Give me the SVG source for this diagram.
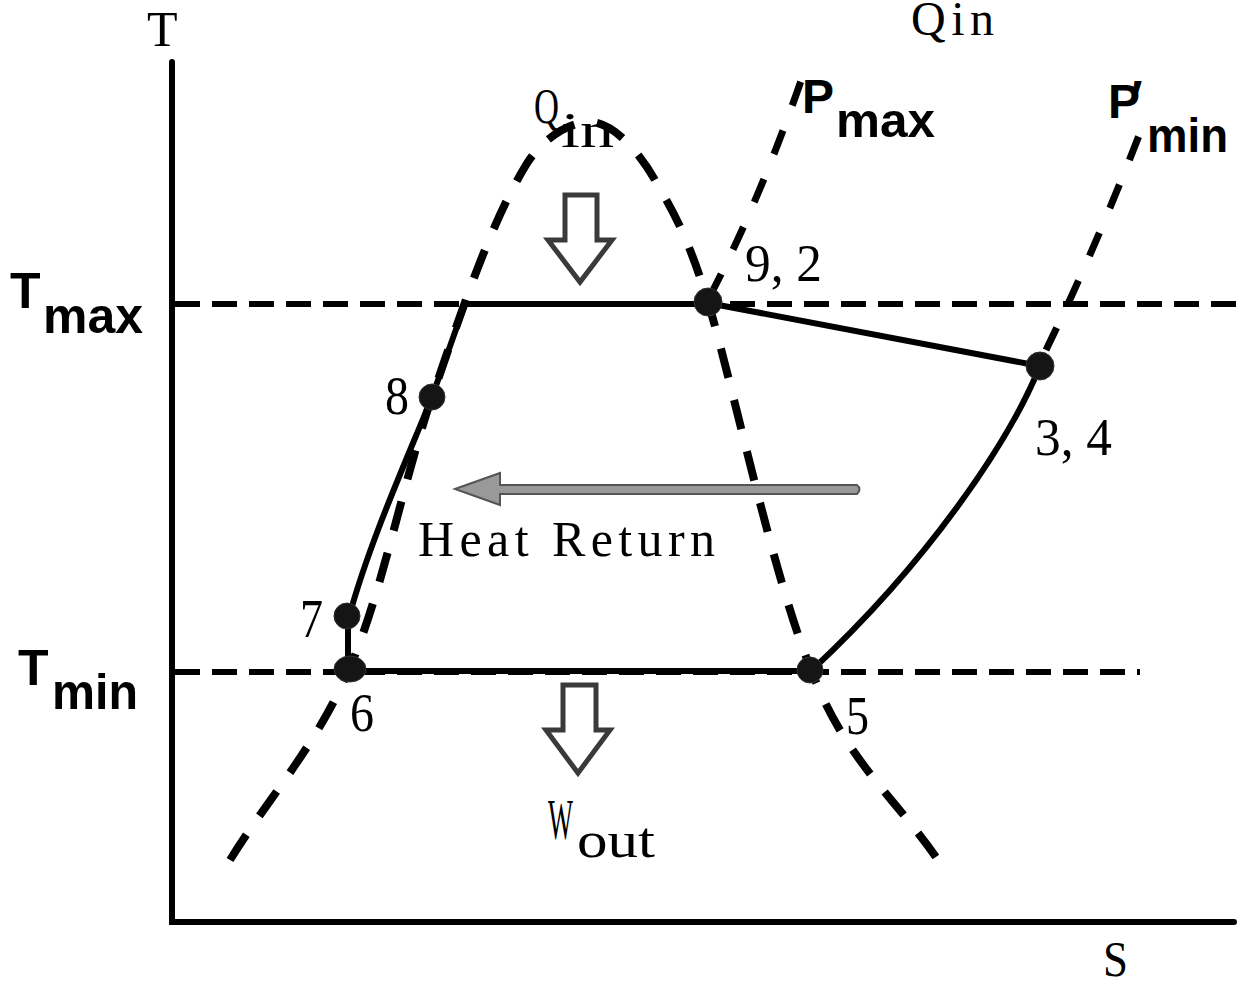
<svg xmlns="http://www.w3.org/2000/svg" width="1245" height="986" viewBox="0 0 1245 986">
<style>
.axis{stroke:#000;stroke-width:6;fill:none;stroke-linecap:round}
.iso{stroke:#000;stroke-width:6;fill:none;stroke-dasharray:25 12}
.dome{stroke:#000;stroke-width:8;fill:none;stroke-dasharray:30 23}
.bar{stroke:#000;stroke-width:7;fill:none;stroke-dasharray:25 27}
.cyc{stroke:#000;stroke-width:6;fill:none;stroke-linecap:round;stroke-linejoin:round}
.dot{fill:#151515;stroke:#333;stroke-width:1}
.ser{font-family:"Liberation Serif","Times New Roman",serif;fill:#000}
.sb{font-family:"Liberation Sans",Arial,sans-serif;font-weight:bold;fill:#000}
.hol{fill:#fff;stroke:#3a3a3a;stroke-width:5;stroke-linejoin:miter}
.gray{fill:#999;stroke:#555;stroke-width:2}
</style>
<g id="axes">
<path class="axis" d="M172,62 L172,922 L1234,922"/>
<text class="ser" x="147" y="46" font-size="50">T</text>
<text class="ser" x="1103" y="976" font-size="50" textLength="25" lengthAdjust="spacingAndGlyphs">S</text>
</g>
<g id="isotherms">
<line class="iso" x1="175" y1="304" x2="1236" y2="304"/>
<line class="iso" x1="175" y1="672" x2="1140" y2="672"/>
<text class="sb" x="10" y="308" font-size="50">T</text>
<text class="sb" x="43" y="333" font-size="50" textLength="100" lengthAdjust="spacingAndGlyphs">max</text>
<text class="sb" x="18" y="685" font-size="50">T</text>
<text class="sb" x="52" y="709" font-size="50" textLength="86" lengthAdjust="spacingAndGlyphs">min</text>
</g>
<g id="dome">
<path class="dome" d="M230,860 C269,797 314,749 348,672 C382,595 403,481 432,397 C461,313 490,224 526,165 C540,142 566,122 590,122 C612,122 638,150 655,180 C669,205 686,230 708,302 C733,384 773,578 812,672 C845,760 897,799 940,863"/>
</g>
<g id="isobars">
<path class="bar" d="M710,296 Q760,200 803,75"/>
<path class="bar" d="M1046,350 Q1095,250 1145,120"/>
<text class="sb" x="802" y="113" font-size="48">P</text>
<text class="sb" x="836" y="137" font-size="48" textLength="99" lengthAdjust="spacingAndGlyphs">max</text>
<text class="sb" x="1108" y="118" font-size="48">P</text>
<text class="sb" x="1131" y="114" font-size="48">′</text>
<text class="sb" x="1147" y="152" font-size="48" textLength="81" lengthAdjust="spacingAndGlyphs">min</text>
</g>
<g id="connectors">
<line class="cyc" x1="465" y1="304" x2="708" y2="304"/>
<line class="cyc" x1="348" y1="671" x2="812" y2="671"/>
<line class="cyc" x1="708" y1="303" x2="1040" y2="366" stroke-width="5"/>
<path class="cyc" d="M1040,366 C1010,440 930,560 812,670"/>
<path class="cyc" d="M465,304 L432,397 C410,452 370,540 349,617"/>
<line class="cyc" x1="348" y1="617" x2="348" y2="670" stroke-width="8"/>
</g>
<g id="node-8"><circle class="dot" cx="432" cy="397" r="13"/><text class="ser" x="385" y="414" font-size="54" textLength="24" lengthAdjust="spacingAndGlyphs">8</text></g>
<g id="node-7"><circle class="dot" cx="347" cy="616" r="13"/><text class="ser" x="300" y="637" font-size="54" textLength="23" lengthAdjust="spacingAndGlyphs">7</text></g>
<g id="node-6"><ellipse class="dot" cx="350" cy="669" rx="16" ry="13"/><text class="ser" x="350" y="731" font-size="54" textLength="24" lengthAdjust="spacingAndGlyphs">6</text></g>
<g id="node-92"><circle class="dot" cx="708" cy="302" r="14"/><text class="ser" x="745" y="281" font-size="52" textLength="77" lengthAdjust="spacingAndGlyphs">9, 2</text></g>
<g id="node-34"><circle class="dot" cx="1040" cy="366" r="14"/><text class="ser" x="1035" y="455" font-size="52" textLength="77" lengthAdjust="spacingAndGlyphs">3, 4</text></g>
<g id="node-5"><circle class="dot" cx="810" cy="670" r="13"/><text class="ser" x="846" y="734" font-size="54" textLength="23" lengthAdjust="spacingAndGlyphs">5</text></g>
<g id="arrows">
<path class="hol" d="M565,195 L597,195 L597,240 L612,240 L580,282 L548,240 L565,240 Z"/>
<path class="hol" d="M563,685 L596,685 L596,730 L610,730 L578,773 L546,730 L563,730 Z"/>
<path class="gray" d="M455,489 L500,473 L500,485 L857,485 Q862,489 857,494 L500,494 L500,505 Z"/>
</g>
<g id="labels">
<text class="ser" x="911" y="35" font-size="48" textLength="83" lengthAdjust="spacing">Qin</text>
<text class="ser" x="534" y="123" font-size="50" textLength="25" lengthAdjust="spacingAndGlyphs">Q</text>
<text class="ser" x="561" y="147" font-size="50" textLength="53" lengthAdjust="spacingAndGlyphs">in</text>
<text class="ser" x="418" y="556" font-size="50" textLength="297" lengthAdjust="spacing">Heat Return</text>
<text class="ser" x="548" y="839" font-size="56" textLength="25" lengthAdjust="spacingAndGlyphs">W</text>
<text class="ser" x="577" y="857" font-size="50" textLength="78" lengthAdjust="spacingAndGlyphs">out</text>
</g>
</svg>
